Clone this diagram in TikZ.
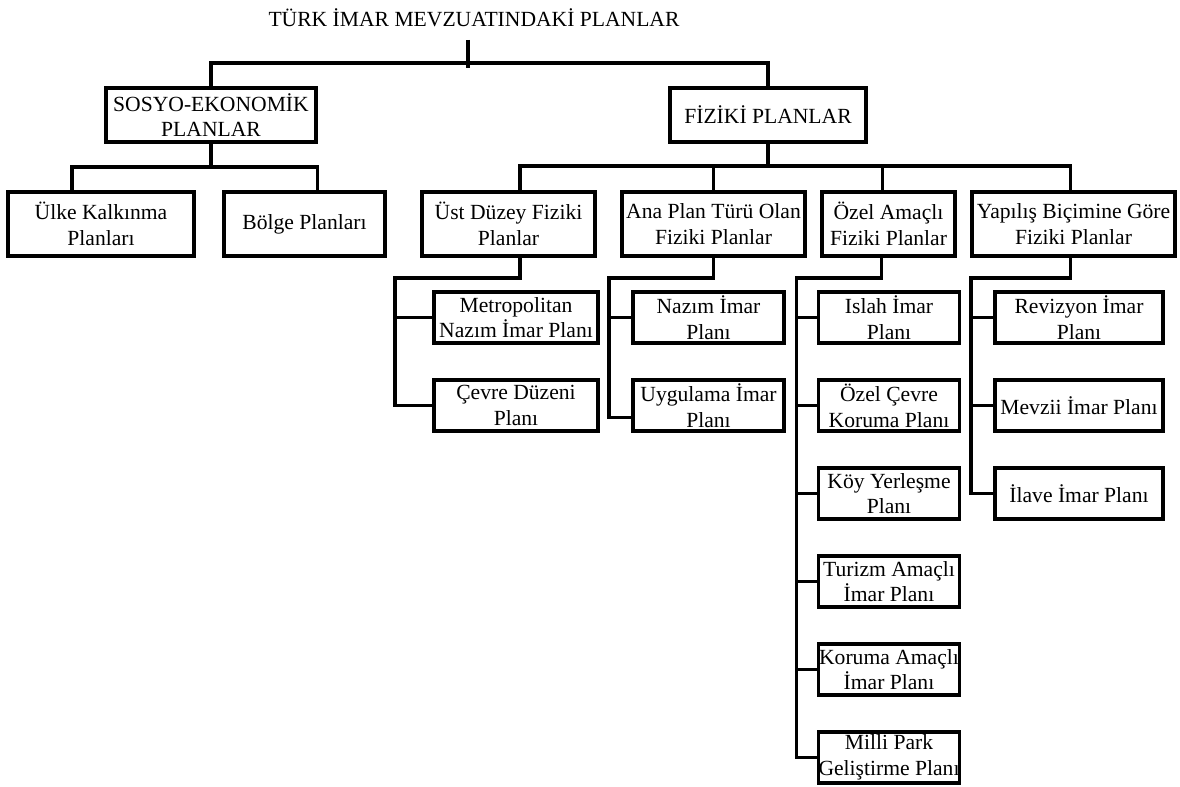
\documentclass[tikz,border=0pt]{standalone}
\usepackage{fontspec}
\setmainfont{Liberation Serif}
\usetikzlibrary{positioning}

\begin{document}
\begin{tikzpicture}[x=0.75pt,y=-0.75pt,line width=2.3pt,
  font=\fontsize{16.2}{19.3}\selectfont,
  plan/.style={draw,align=center,inner sep=0pt,outer sep=0pt,minimum height=48pt},
  leaf/.style={plan,minimum height=38.25pt}]
\useasboundingbox (0,0) rectangle (1180,787);

% title and first level
\node (title) at (474,18) {TÜRK İMAR MEVZUATINDAKİ PLANLAR};
\coordinate (stemtop) at (468,40);
\coordinate (stembot) at (468,68);
\node[plan,minimum width=157.5pt,minimum height=40.5pt] (sosyo) at (211,115) {SOSYO-EKONOMİK\\PLANLAR};
\node[plan,minimum width=147pt,minimum height=40.5pt] (fiziki) at (768,115) {FİZİKİ PLANLAR};

% second level
\node[plan,minimum width=139.5pt] (ulke) at (101,224) {Ülke Kalkınma\\Planları};
\node[plan,minimum width=120.75pt] (bolge) at (304.5,224) {Bölge Planları};
\node[plan,minimum width=129.75pt] (ust) at (508.5,224) {Üst Düzey Fiziki\\Planlar};
\node[plan,minimum width=137.25pt] (ana) at (713.5,224) {Ana Plan Türü Olan\\Fiziki Planlar};
\node[plan,minimum width=99.75pt] (ozel) at (888.5,224) {Özel Amaçlı\\Fiziki Planlar};
\node[plan,minimum width=152.25pt] (yapilis) at (1073.5,224) {Yapılış Biçimine Göre\\Fiziki Planlar};

% third level
\node[leaf,minimum width=123pt] (metro) at (516,317.5) {Metropolitan\\Nazım İmar Planı};
\node[leaf,minimum width=123pt,below=27.75pt of metro] (cevre) {Çevre Düzeni\\Planı};

\node[leaf,minimum width=113.25pt] (nazim) at (708.5,317.5) {Nazım İmar\\Planı};
\node[leaf,minimum width=113.25pt,below=27.75pt of nazim] (uyg) {Uygulama İmar\\Planı};

\node[leaf,minimum width=105.5pt] (islah) at (889,317.5) {Islah İmar\\Planı};
\node[leaf,minimum width=105.5pt,below=27.75pt of islah] (ocevre) {Özel Çevre\\Koruma Planı};
\node[leaf,minimum width=105.5pt,below=27.75pt of ocevre] (koy) {Köy Yerleşme\\Planı};
\node[leaf,minimum width=105.5pt,below=27.75pt of koy] (turizm) {Turizm Amaçlı\\İmar Planı};
\node[leaf,minimum width=105.5pt,below=27.75pt of turizm] (koruma) {Koruma Amaçlı\\İmar Planı};
\node[leaf,minimum width=105.5pt,below=27.75pt of koruma] (milli) {Milli Park\\Geliştirme Planı};

\node[leaf,minimum width=126pt] (revizyon) at (1079,317.5) {Revizyon İmar\\Planı};
\node[leaf,minimum width=126pt,below=27.75pt of revizyon] (mevzii) {Mevzii İmar Planı};
\node[leaf,minimum width=126pt,below=27.75pt of mevzii] (ilave) {İlave İmar Planı};

% connectors
\draw (stemtop) -- (stembot);
\draw (sosyo.north) -- ++(0,-25) -| (fiziki.north);

\draw (sosyo.south) -- ++(0,25) -| ([xshift=-21.75pt]ulke.north);
\draw (sosyo.south) ++(0,25) -| ([xshift=10pt]bolge.north);

\draw (fiziki.south) -- ++(0,24) coordinate (fbus) -| ([xshift=8.6pt]ust.north);
\draw (fbus) -| (ana.north);
\draw (fbus) -| ([xshift=-4.5pt]ozel.north);
\draw (fbus) -| ([xshift=-2.6pt]yapilis.north);

\draw ([xshift=8.6pt]ust.south) -- ++(0,22) -| ([xshift=-29.25pt]cevre.west) -- (cevre.west);
\draw ([xshift=-29.25pt]metro.west) -- (metro.west);

\draw (ana.south) -- ++(0,22) -| ([xshift=-18pt,yshift=-9pt]uyg.west) -- ([yshift=-9pt]uyg.west);
\draw ([xshift=-18pt]nazim.west) -- (nazim.west);

\draw ([xshift=-5pt]ozel.south) -- ++(0,22) -| ([xshift=-16.5pt]milli.west) -- (milli.west);
\foreach \n in {islah,ocevre,koy,turizm,koruma}
  \draw ([xshift=-16.5pt]\n.west) -- (\n.west);

\draw ([xshift=-2.6pt]yapilis.south) -- ++(0,22) -| ([xshift=-18pt]ilave.west) -- (ilave.west);
\foreach \n in {revizyon,mevzii}
  \draw ([xshift=-18pt]\n.west) -- (\n.west);
\end{tikzpicture}
\end{document}
